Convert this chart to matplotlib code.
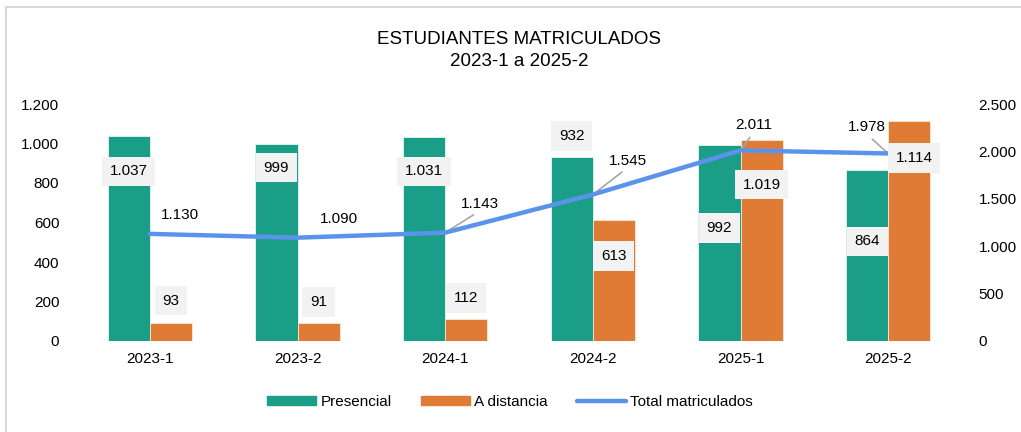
import matplotlib.pyplot as plt
from matplotlib.patches import Patch
from matplotlib.lines import Line2D
from matplotlib.ticker import FuncFormatter

plt.rcParams['font.family'] = ['Liberation Sans', 'DejaVu Sans']

periodos = ["2023-1", "2023-2", "2024-1", "2024-2", "2025-1", "2025-2"]
presencial = [1037, 999, 1031, 932, 992, 864]
distancia = [93, 91, 112, 613, 1019, 1114]
total = [1130, 1090, 1143, 1545, 2011, 1978]

VERDE = "#1b9e87"
NARANJA = "#e07b35"
AZUL = "#5b93ec"
CAJA = "#f2f2f2"

# label offsets in pixels (dx, dy up)
off_pres = [(0, -35), (0, -24), (0, -34), (0, 21), (0, -83), (0, -71)]
off_dist = [(0, 22), (0, 21), (0, 21), (0, -36), (0, -45), (5, -37)]
off_total = [(30, 19), (41, 19), (35, 29), (35, 34), (13, 25), (-21, 26)]
leader = [False, False, True, True, True, True]

FS = 11


def miles(v, _=None):
    return f"{int(round(v)):,}".replace(",", ".")


fig = plt.figure(figsize=(10.21, 4.32), dpi=100)
ax = fig.add_axes([76 / 1021, 1 - 341 / 432, (962 - 76) / 1021, (341 - 104) / 432])
ax2 = ax.twinx()

x = list(range(len(periodos)))
w = 0.285
ax.bar([i - w / 2 for i in x], presencial, w, color=VERDE, edgecolor="#e8f5f2", linewidth=0.6, zorder=2)
ax.bar([i + w / 2 for i in x], distancia, w, color=NARANJA, edgecolor="#f8e6da", linewidth=0.6, zorder=2)
ax2.plot(x, total, color=AZUL, lw=3.2, solid_capstyle="round", zorder=3)

ax.set_xlim(-0.5, len(periodos) - 0.5)
ax.set_ylim(0, 1200)
ax2.set_ylim(0, 2500)
ax.set_yticks(range(0, 1201, 200))
ax2.set_yticks(range(0, 2501, 500))
ax.yaxis.set_major_formatter(FuncFormatter(miles))
ax2.yaxis.set_major_formatter(FuncFormatter(miles))
ax.set_xticks(x)
ax.set_xticklabels(periodos)

for a in (ax, ax2):
    for s in a.spines.values():
        s.set_visible(False)
    a.tick_params(length=0, labelsize=FS, colors="#000000")
ax.tick_params(axis="y", pad=12)
ax2.tick_params(axis="y", pad=12)
ax.tick_params(axis="x", pad=8)

ax2.set_zorder(ax.get_zorder() + 1)
ax2.patch.set_visible(False)

px = 0.72
caja = dict(boxstyle="square,pad=0.5", fc=CAJA, ec="none")
for i in x:
    ax2.annotate(miles(presencial[i]), xy=(i - w / 2, presencial[i] * 2500 / 1200),
                 xytext=(off_pres[i][0] * px, off_pres[i][1] * px), textcoords="offset points",
                 ha="center", va="center", fontsize=FS, bbox=caja, zorder=5)
    ax2.annotate(miles(distancia[i]), xy=(i + w / 2, distancia[i] * 2500 / 1200),
                 xytext=(off_dist[i][0] * px, off_dist[i][1] * px), textcoords="offset points",
                 ha="center", va="center", fontsize=FS, bbox=caja, zorder=5)
    props = None
    if leader[i]:
        props = dict(arrowstyle="-", color="#a6a6a6", lw=1.2, relpos=(0.5, 0),
                     shrinkA=2, shrinkB=0)
    ax2.annotate(miles(total[i]), xy=(i, total[i]),
                 xytext=(off_total[i][0] * px, off_total[i][1] * px), textcoords="offset points",
                 ha="center", va="center", fontsize=FS, arrowprops=props, zorder=2)

fig.text(519 / 1021, 1 - 40 / 432, "ESTUDIANTES MATRICULADOS", ha="center", va="center", fontsize=13.5)
fig.text(519 / 1021, 1 - 61 / 432, "2023-1 a 2025-2", ha="center", va="center", fontsize=13.5)

handles = [Patch(color=VERDE), Patch(color=NARANJA),
           Line2D([], [], color=AZUL, lw=3.2, solid_capstyle="round")]
fig.legend(handles, ["Presencial", "A distancia", "Total matriculados"], loc="center",
           bbox_to_anchor=(510 / 1021, 1 - 402 / 432), ncol=3, frameon=False, fontsize=FS,
           handlelength=3.2, handleheight=0.5, handletextpad=0.3, columnspacing=1.9)

# chart border (top and left)
fig.add_artist(Line2D([5.5 / 1021, 1], [1 - 6.5 / 432, 1 - 6.5 / 432], color="#d9d9d9", lw=1.5))
fig.add_artist(Line2D([5.5 / 1021, 5.5 / 1021], [0, 1 - 6.5 / 432], color="#d9d9d9", lw=1.5))

fig.savefig("out.png", dpi=100, facecolor="white")
